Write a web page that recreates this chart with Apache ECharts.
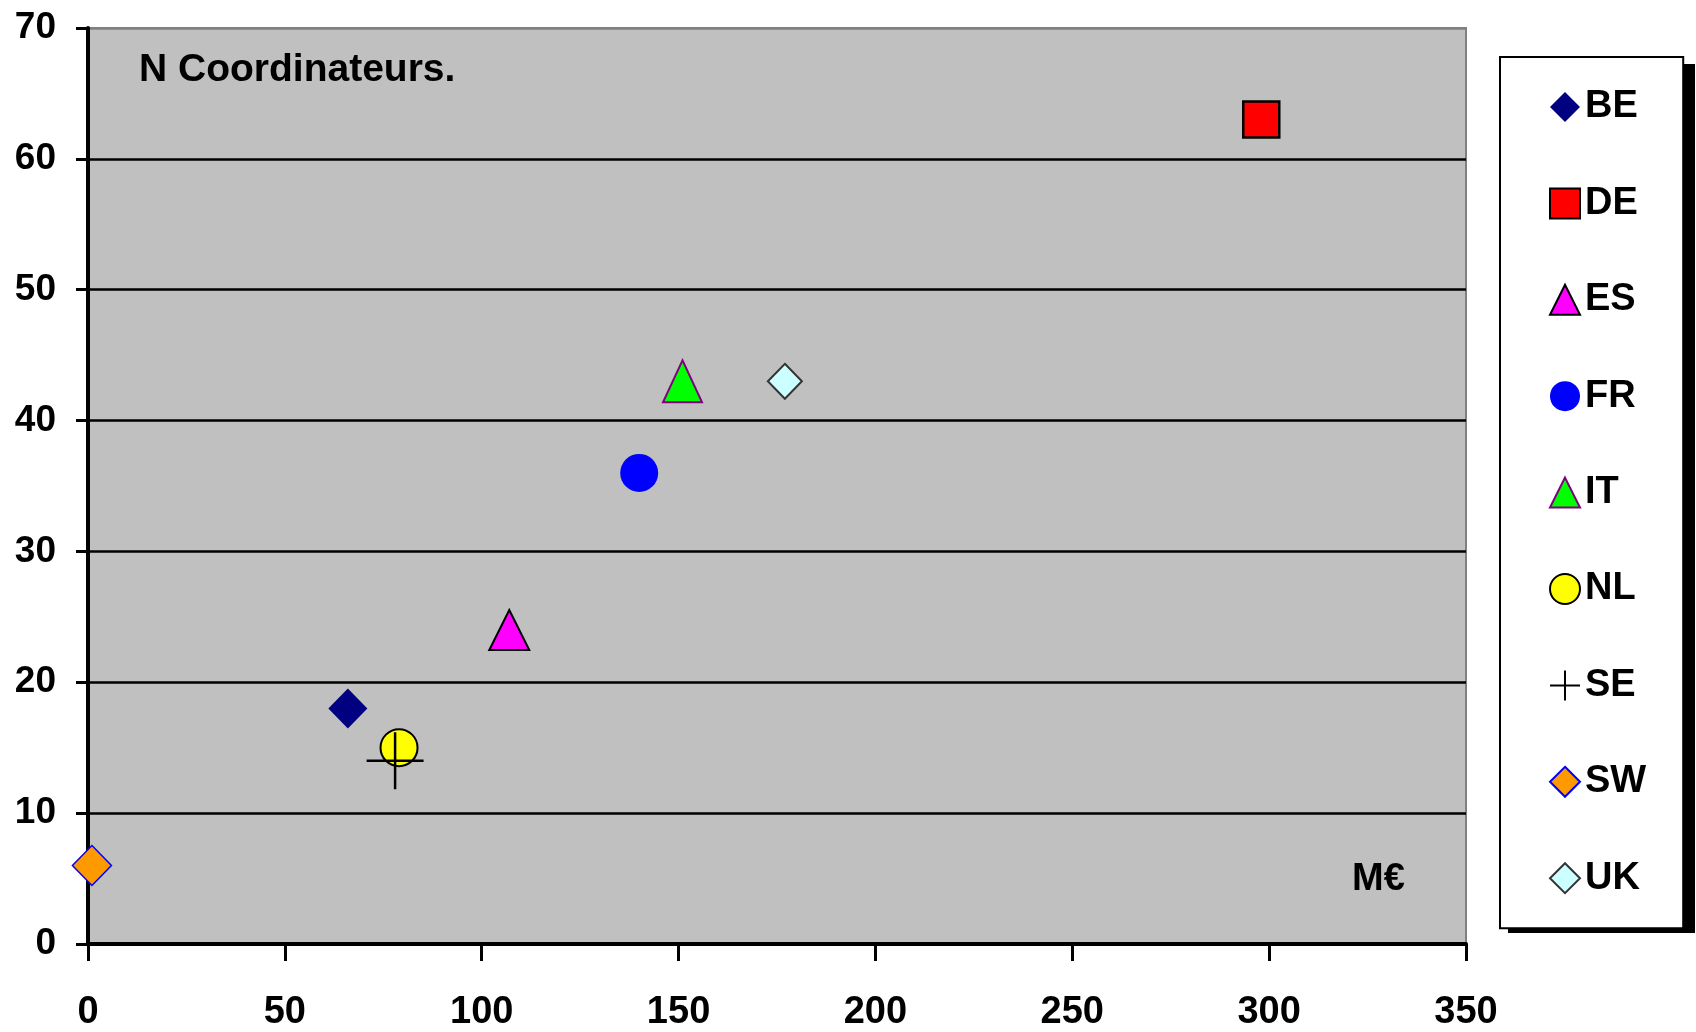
<!DOCTYPE html>
<html>
<head>
<meta charset="utf-8">
<script src="https://cdn.jsdelivr.net/npm/echarts@6/dist/echarts.min.js"></script>
<style>
html,body{margin:0;padding:0;background:#fff;}
#chart{width:1696px;height:1032px;}
</style>
</head>
<body>
<div id="chart"></div>
<script>
const countries = ['BE', 'DE', 'ES', 'FR', 'IT', 'NL', 'SE', 'SW', 'UK'];
const budgetMEUR = [66, 298, 107, 140, 151, 79, 78, 1, 177];
const nCoordinators = [18, 63, 24, 36, 43, 15, 14, 6, 43];
const xTicks = [0, 50, 100, 150, 200, 250, 300, 350];
const yTicks = [0, 10, 20, 30, 40, 50, 60, 70];

const FONT = '"Liberation Sans", Arial, sans-serif';
const CROSS = 'path://M0,50 L100,50 M50,0 L50,100';

const styles = {
  BE: { symbol: 'diamond', size: [39, 40], color: '#000080', border: '#000080', bw: 0 },
  DE: { symbol: 'rect', size: 36, color: '#FF0000', border: '#000000', bw: 2.5 },
  ES: { symbol: 'triangle', size: [40, 40], color: '#FF00FF', border: '#000000', bw: 2 },
  FR: { symbol: 'circle', size: 38, color: '#0000FF', border: '#0000FF', bw: 0 },
  IT: { symbol: 'triangle', size: [39, 42], color: '#00FF00', border: '#800080', bw: 2 },
  NL: { symbol: 'circle', size: 37, color: '#FFFF00', border: '#000000', bw: 2 },
  SE: { symbol: CROSS, size: 57, color: 'transparent', border: '#000000', bw: 2.5 },
  SW: { symbol: 'diamond', size: [39, 40], color: '#FF9900', border: '#0000FF', bw: 1.5 },
  UK: { symbol: 'diamond', size: [34, 35], color: '#CCFFFF', border: '#333333', bw: 2 }
};

const series = countries.map((c, i) => {
  const s = styles[c];
  return {
    name: c,
    type: 'scatter',
    symbol: s.symbol,
    symbolSize: s.size,
    data: [[budgetMEUR[i], nCoordinators[i]]],
    itemStyle: { color: s.color, borderColor: s.border, borderWidth: s.bw, opacity: 1 },
    emphasis: { disabled: true },
    z: 3 + i
  };
});

const chart = echarts.init(document.getElementById('chart'));
chart.setOption({
  animation: false,
  backgroundColor: '#ffffff',
  grid: {
    left: 88, top: 28, width: 1378, height: 918,
    show: true, backgroundColor: '#C0C0C0', borderColor: '#808080', borderWidth: 2
  },
  xAxis: {
    type: 'value', min: xTicks[0], max: xTicks[xTicks.length - 1], interval: 50,
    axisLine: { show: true, onZero: false, lineStyle: { color: '#000', width: 4 } },
    axisTick: { show: true, inside: false, length: 17, lineStyle: { color: '#000', width: 3 } },
    axisLabel: { margin: 50, color: '#000', fontSize: 38, fontWeight: 'bold', fontFamily: FONT },
    splitLine: { show: false }
  },
  yAxis: {
    type: 'value', min: yTicks[0], max: yTicks[yTicks.length - 1], interval: 10,
    axisLine: { show: true, onZero: false, lineStyle: { color: '#000', width: 4 } },
    axisTick: { show: true, inside: false, length: 12, lineStyle: { color: '#000', width: 3 } },
    axisLabel: { margin: 32, color: '#000', fontSize: 37, fontWeight: 'bold', fontFamily: FONT },
    splitLine: {
      show: true,
      lineStyle: { color: ['#000', '#000', '#000', '#000', '#000', '#000', '#000', '#808080'], width: 2.5 }
    }
  },
  legend: {
    orient: 'vertical',
    left: 1500, top: 57,
    z: 10,
    padding: [30, 37, 30, 49],
    itemWidth: 30, itemHeight: 30, itemGap: 56.4, itemTextGap: 10,
    backgroundColor: '#ffffff', borderColor: '#000000', borderWidth: 2,
    selectedMode: false,
    textStyle: { color: '#000', fontSize: 38, fontWeight: 'bold', fontFamily: FONT, lineHeight: 40 },
    data: countries
  },
  graphic: [
    { type: 'rect', left: 1508, top: 64, z: 1,
      shape: { width: 187, height: 869 }, style: { fill: '#000000' } },
    { type: 'text', left: 139, top: 51, z: 100,
      style: { text: 'N Coordinateurs.', fill: '#000', font: 'bold 39px ' + FONT } },
    { type: 'text', left: 1352, top: 861, z: 100,
      style: { text: 'M€', fill: '#000', font: 'bold 38px ' + FONT } }
  ],
  series: series
});
</script>
</body>
</html>
